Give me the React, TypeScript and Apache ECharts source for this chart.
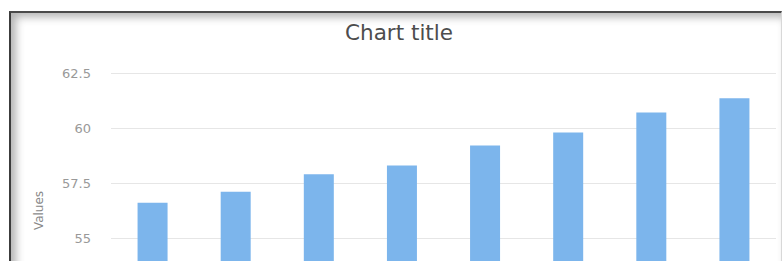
import React, { useEffect, useRef } from "react";
import * as echarts from "echarts";

const chartTitle = "Chart title";
const yAxisName = "Values";
const categories = ["1", "2", "3", "4", "5", "6", "7", "8"];
const values = [56.6, 57.1, 57.9, 58.3, 59.2, 59.8, 60.7, 61.35];
const yMin = 50;
const yMax = 62.5;
const yInterval = 2.5;

export default function App() {
  const ref = useRef<HTMLDivElement>(null);

  useEffect(() => {
    if (!ref.current) return;
    const chart = echarts.init(ref.current, null, { renderer: "svg" });
    chart.setOption({
      animation: false,
      backgroundColor: "#ffffff",
      title: {
        text: chartTitle,
        left: 399,
        top: 21,
        padding: 0,
        textAlign: "center",
        textStyle: {
          fontFamily: "DejaVu Sans",
          fontSize: 21.5,
          fontWeight: "normal",
          color: "#4d4d4d",
        },
      },
      grid: { left: 111, right: 7, top: 73, height: 275 },
      xAxis: {
        type: "category",
        data: categories,
        axisLine: { lineStyle: { color: "#ccd6eb" } },
        axisTick: { show: false },
        axisLabel: { color: "#777", fontFamily: "DejaVu Sans", fontSize: 12 },
      },
      yAxis: {
        type: "value",
        min: yMin,
        max: yMax,
        interval: yInterval,
        name: yAxisName,
        nameLocation: "middle",
        nameRotate: 90,
        nameGap: 66,
        nameTextStyle: { color: "#888", fontFamily: "DejaVu Sans", fontSize: 12 },
        axisLine: { show: false },
        axisTick: { show: false },
        axisLabel: {
          color: "#999",
          fontFamily: "DejaVu Sans",
          fontSize: 13,
          margin: 20,
        },
        splitLine: { lineStyle: { color: "#e6e6e6", width: 1 } },
      },
      series: [
        {
          type: "bar",
          data: values,
          barWidth: 30,
          itemStyle: { color: "#7cb5ec" },
        },
      ],
    });
    return () => chart.dispose();
  }, []);

  return (
    <div
      style={{
        position: "fixed",
        left: 0,
        top: 0,
        width: 783,
        height: 261,
        overflow: "hidden",
        background: "#fff",
      }}
    >
      <div
        ref={ref}
        style={{ position: "absolute", left: 0, top: 0, width: 783, height: 420 }}
      />
      <div
        style={{
          position: "absolute",
          left: 9,
          top: 11,
          width: 773,
          height: 500,
          boxSizing: "border-box",
          borderTop: "2px solid #4a4a4a",
          borderLeft: "2px solid #3c3c3c",
          borderRight: "1px solid #d8d8d8",
          boxShadow: "inset 5px 4px 8px rgba(0,0,0,0.3)",
          pointerEvents: "none",
        }}
      />
    </div>
  );
}
